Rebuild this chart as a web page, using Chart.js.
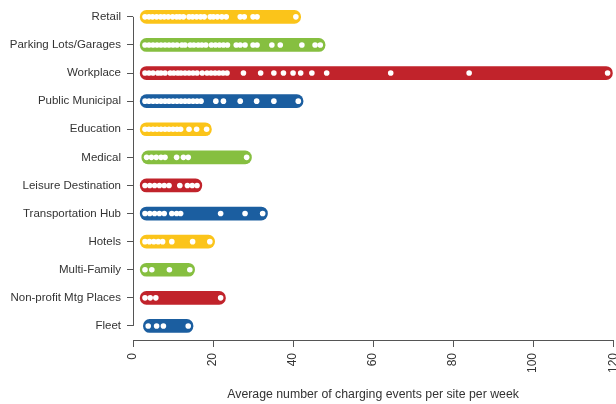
<!DOCTYPE html>
<html>
<head>
<meta charset="utf-8">
<script src="https://cdn.jsdelivr.net/npm/chart.js@4"></script>
<style>
	html, body { margin: 0; padding: 0; background: #fff; overflow: hidden; }
	#wrap { width: 616px; height: 404px; }
</style>
</head>
<body>
<div id="wrap"><canvas id="siteChart" width="616" height="404"></canvas></div>
<script>
	// site types, top to bottom
	var siteTypes = ['Retail', 'Parking Lots/Garages', 'Workplace', 'Public Municipal', 'Education', 'Medical',
		'Leisure Destination', 'Transportation Hub', 'Hotels', 'Multi-Family', 'Non-profit Mtg Places', 'Fleet'];

	// average charging events per site per week, one value per site
	var retail = [3, 4, 4.9, 5.9, 6.9, 7.8, 8.8, 9.9, 10.9, 11.7, 12.6, 14, 14.9, 15.9, 16.9, 17.8, 19.3, 20.1, 21.1, 22.2, 23.3, 26.8, 27.8, 30, 31, 40.7];
	var parking = [3, 4, 5, 6, 7, 8, 9, 10, 11, 12.2, 13, 14.3, 15.2, 16.3, 17.2, 18.2, 19.6, 20.6, 21.6, 22.6, 23.6, 25.8, 26.8, 28, 30, 31, 34.7, 36.8, 42.2, 45.5, 46.8];
	var workplace = [3, 4, 5, 6.2, 7, 8, 9.3, 10.2, 11.2, 12, 13, 14, 15, 16, 17.3, 18.5, 19.5, 20.5, 21.5, 22.5, 23.5, 27.6, 31.9, 35.2, 37.6, 40, 41.9, 44.7, 48.4, 64.4, 84, 118.6];
	var publicMunicipal = [3, 4, 5, 6, 7, 8, 9, 10, 11, 12, 13, 14, 15, 16, 17, 20.7, 22.6, 26.8, 30.9, 35.2, 41.3];
	var education = [3, 4, 5, 6, 7, 8, 9, 10, 11, 11.9, 14, 15.9, 18.4];
	var medical = [3.4, 4.6, 5.8, 7, 8, 10.9, 12.6, 13.8, 28.4];
	var leisure = [3, 4.2, 5.4, 6.6, 7.8, 9, 11.7, 13.6, 14.8, 16];
	var transportHub = [3, 4.2, 5.4, 6.6, 7.8, 9.7, 10.9, 11.9, 21.9, 28, 32.4];
	var hotels = [3, 4.1, 5.2, 6.3, 7.4, 9.7, 14.9, 19.2];
	var multiFamily = [3, 4.7, 9.1, 14.2];
	var nonProfit = [3, 4.3, 5.7, 21.9];
	var fleet = [3.8, 5.9, 7.6, 13.8];

	var sitesByType = [retail, parking, workplace, publicMunicipal, education, medical,
		leisure, transportHub, hotels, multiFamily, nonProfit, fleet];

	var xTicks = [0, 20, 40, 60, 80, 100, 120];

	var palette = ['#fbc41a', '#86bf40', '#c1232b', '#1b5ea0'];
	var capPad = 1.2; // round caps reach a little past the outer dots
	var textColor = '#333';
	var fontFamily = '"Liberation Sans", Arial, sans-serif';

	/* ================= build datasets ================= */

	var rangeData = sitesByType.map(function(vals) {
		return [Math.min.apply(null, vals) - capPad, Math.max.apply(null, vals) + capPad];
	});
	var rangeColors = siteTypes.map(function(name, i) {
		return palette[i % palette.length];
	});

	var dots = [];
	sitesByType.forEach(function(vals, i) {
		vals.forEach(function(v) {
			dots.push({ x: v, y: siteTypes[i] });
		});
	});

	// R-style detached axis lines
	var rAxes = {
		id: 'rAxes',
		afterDraw: function(chart) {
			var ctx = chart.ctx;
			var xs = chart.scales.x, ys = chart.scales.y;
			ctx.save();
			ctx.strokeStyle = '#555';
			ctx.lineWidth = 1;
			ctx.beginPath();
			var ax = Math.round(chart.chartArea.left) + 0.5;
			ctx.moveTo(ax, ys.getPixelForValue(0));
			ctx.lineTo(ax, ys.getPixelForValue(siteTypes.length - 1));
			var ay = Math.round(chart.chartArea.bottom) + 0.5;
			ctx.moveTo(xs.getPixelForValue(xTicks[0]), ay);
			ctx.lineTo(xs.getPixelForValue(xTicks[xTicks.length - 1]), ay);
			ctx.stroke();
			ctx.restore();
		}
	};

	var ctx = document.getElementById('siteChart');
	var siteChart = new Chart(ctx, {
		type: 'bar',
		data: {
			labels: siteTypes,
			datasets: [{
				type: 'scatter',
				data: dots,
				order: 0,
				pointRadius: 2.8,
				pointBackgroundColor: '#fff',
				pointBorderWidth: 0,
				pointHoverRadius: 2.8
			}, {
				type: 'bar',
				data: rangeData,
				order: 1,
				backgroundColor: rangeColors,
				barThickness: 13,
				borderRadius: 6.5,
				borderSkipped: false
			}]
		},
		plugins: [rAxes],
		options: {
			indexAxis: 'y',
			responsive: false,
			animation: false,
			layout: { padding: { top: 2, right: 2, left: 0, bottom: 0 } },
			plugins: {
				legend: { display: false },
				tooltip: { enabled: false }
			},
			scales: {
				y: {
					type: 'category',
					offset: true,
					border: { display: false },
					grid: { display: true, drawOnChartArea: false, tickLength: 6, color: '#555', offset: false },
					ticks: { color: textColor, font: { family: fontFamily, size: 11.5 }, padding: 6 },
					afterFit: function(scale) {
						scale.width = 133;
						scale.paddingTop = 0;
						scale.paddingBottom = 0;
					}
				},
				x: {
					min: 0,
					max: 120,
					afterBuildTicks: function(scale) {
						scale.ticks = xTicks.map(function(v) { return { value: v }; });
					},
					border: { display: false },
					grid: { display: true, drawOnChartArea: false, tickLength: 7, color: '#555' },
					ticks: { color: textColor, font: { family: fontFamily, size: 12 }, minRotation: 90, maxRotation: 90, padding: 6 },
					title: {
						display: true,
						text: 'Average number of charging events per site per week',
						color: textColor,
						font: { family: fontFamily, size: 12.3 },
						padding: { top: 12, bottom: 2 }
					},
					afterFit: function(scale) {
						scale.height = 64;
						scale.paddingRight = 0;
					}
				}
			}
		}
	});
</script>
</body>
</html>
